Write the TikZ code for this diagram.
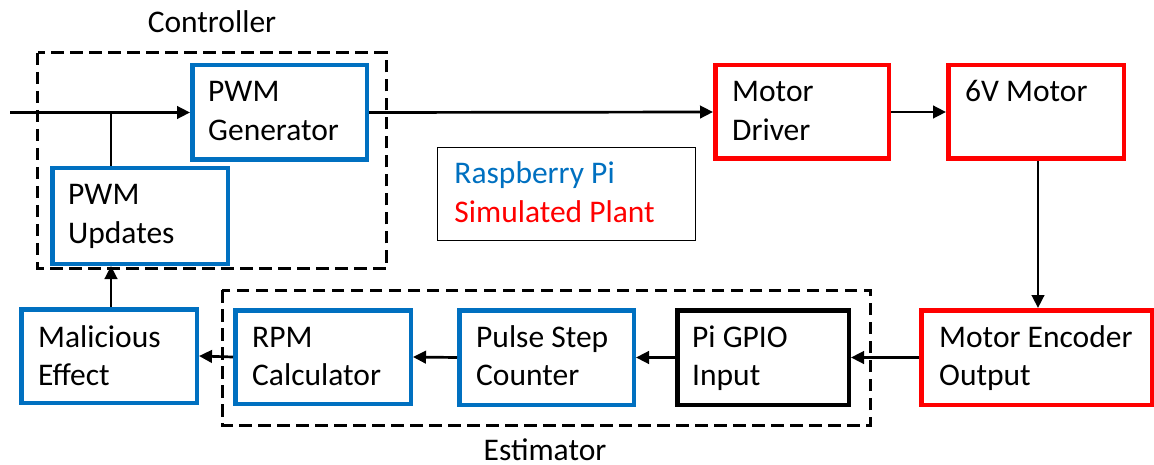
\documentclass[tikz,border=0pt]{standalone}
\usepackage{fontspec}
\setmainfont{Carlito}
\usetikzlibrary{arrows.meta}
\definecolor{piblue}{HTML}{0070C0}
\definecolor{plantred}{HTML}{FF0000}
\newcommand{\twolines}[1]{\begin{tabular}[t]{@{}l@{}}#1\end{tabular}}
\begin{document}
\begin{tikzpicture}[x=1pt,y=-1pt,
  font=\fontsize{31.5}{38.4}\selectfont,
  blk/.style={draw=#1, line width=4.5pt, fill=white, inner sep=0pt, anchor=north west},
  txt/.style={anchor=base west, inner sep=0pt, text=black},
  grp/.style={draw=black, line width=3pt, dash pattern=on 12.5pt off 6.5pt},
  conn/.style={draw=black, line width=2.7pt, -{Triangle[length=13pt,width=12.5pt]}},
  wire/.style={draw=black, line width=2.7pt}]
\useasboundingbox (0,0) rectangle (1154,465);

% group frames
\draw[grp] (37.5,53) rectangle (386,268.5);
\draw[grp] (222,290) rectangle (870,425);
\node[txt, anchor=base] (ctrllbl) at (212,33) {Controller};
\node[txt, anchor=base] (estlbl) at (545,460) {Estimator};

% blocks
\node[blk=piblue, minimum width=174.5pt, minimum height=94.5pt] (gen) at (190,63) {};
\node[blk=piblue, minimum width=175.5pt, minimum height=95.5pt] (upd) at (50,166) {};
\node[blk=plantred, minimum width=173.5pt, minimum height=93.5pt] (drv) at (713,63) {};
\node[blk=plantred, minimum width=175.5pt, minimum height=93.5pt] (mot) at (946,63) {};
\node[blk=plantred, minimum width=230.5pt, minimum height=94.5pt] (enc) at (919,308) {};
\node[blk=black, minimum width=171.5pt, minimum height=94.5pt] (gpio) at (675,308) {};
\node[blk=piblue, minimum width=174.5pt, minimum height=94.5pt] (pulse) at (457,308) {};
\node[blk=piblue, minimum width=175.5pt, minimum height=93.5pt] (rpm) at (233,308) {};
\node[blk=piblue, minimum width=175.5pt, minimum height=93.5pt] (mal) at (19,307) {};

% block texts
\node[txt] (gent) at ([shift={(18,39)}]gen.north west) {\twolines{PWM\\Generator}};
\node[txt] (updt) at ([shift={(18,39)}]upd.north west) {\twolines{PWM\\Updates}};
\node[txt] (drvt) at ([shift={(19,39)}]drv.north west) {\twolines{Motor\\Driver}};
\node[txt] (mott) at ([shift={(19,39)}]mot.north west) {6V Motor};
\node[txt] (enct) at ([shift={(20,39)}]enc.north west) {\twolines{Motor Encoder\\Output}};
\node[txt] (gpiot) at ([shift={(17,39)}]gpio.north west) {\twolines{Pi GPIO\\Input}};
\node[txt] (pulset) at ([shift={(19,39)}]pulse.north west) {\twolines{Pulse Step\\Counter}};
\node[txt] (rpmt) at ([shift={(19,39)}]rpm.north west) {\twolines{RPM\\Calculator}};
\node[txt] (malt) at ([shift={(19,40)}]mal.north west) {\twolines{Malicious\\Effect}};

% legend
\node[draw=black, line width=1.5pt, minimum width=258pt, minimum height=93pt, anchor=north west, inner sep=0pt] (legend) at (436.75,146.75) {};
\node[txt, text=piblue] (legpi) at ([shift={(17.5,36.5)}]legend.north west) {Raspberry Pi};
\node[txt, text=plantred] (legplant) at ([shift={(17.5,75.5)}]legend.north west) {Simulated Plant};

% connectors
\coordinate (in) at (10,112.5);
\coordinate (j) at (111,112.5);
\path[conn] (in) -- (gen.west);
\path[wire] (j) -- (j |- upd.north);
\path[conn] (gen.east) -- (drv.west);
\path[conn] (drv.east) -- (mot.west);
\path[conn] (mot.south -| 1038,0) -- (enc.north -| 1038,0);
\path[conn] (enc.west) -- (gpio.east);
\path[conn] (gpio.west) -- (pulse.east);
\path[conn] (pulse.west) -- (rpm.east);
\path[conn] (rpm.west) -- (mal.east);
\path[conn] (mal.north -| j) -- (upd.south -| j);
\end{tikzpicture}
\end{document}
